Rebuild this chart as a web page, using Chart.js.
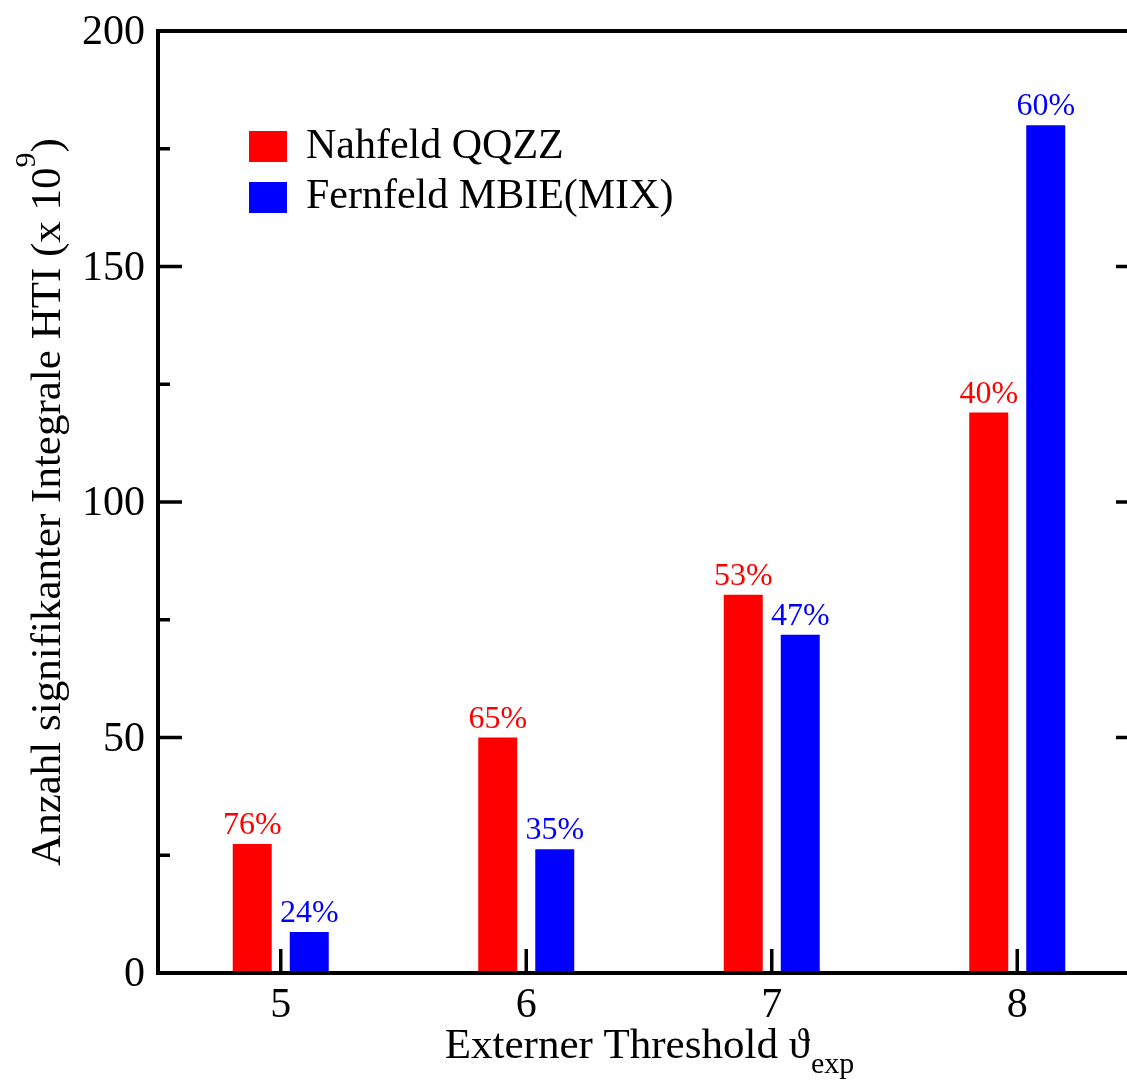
<!DOCTYPE html>
<html>
<head>
<meta charset="utf-8">
<script src="https://cdn.jsdelivr.net/npm/chart.js@4.4.1/dist/chart.umd.min.js"></script>
<style>
  html, body { margin: 0; padding: 0; background: #fff; overflow: hidden; }
  canvas { display: block; }
</style>
</head>
<body>
<canvas id="hti" width="1160" height="1081"></canvas>
<script>
const categories = ['5', '6', '7', '8'];
const nahfeld = [27.4, 50, 80.3, 119];
const fernfeld = [8.7, 26.3, 71.8, 180];
const nahfeldPct = ['76%', '65%', '53%', '40%'];
const fernfeldPct = ['24%', '35%', '47%', '60%'];
const yMajorTicks = [0, 50, 100, 150, 200];
const yMinorTicks = [25, 75, 125, 175];

const SERIF = "'Liberation Serif', 'Times New Roman', serif";
const RED = '#ff0000';
const BLUE = '#0000ff';

// frame, inward ticks, tick labels, axis titles, legend and bar labels
const xmgrDecor = {
  id: 'xmgrDecor',
  afterDraw(chart) {
    const { ctx, chartArea: a, scales } = chart;
    const x = scales.x, y = scales.y;
    ctx.save();

    // bar value labels
    ctx.font = '32px ' + SERIF;
    ctx.textAlign = 'center';
    ctx.textBaseline = 'alphabetic';
    const pcts = [nahfeldPct, fernfeldPct];
    chart.data.datasets.forEach((ds, di) => {
      ctx.fillStyle = ds.backgroundColor;
      chart.getDatasetMeta(di).data.forEach((bar, i) => {
        ctx.fillText(pcts[di][i], bar.x, bar.y - 10);
      });
    });

    // frame
    ctx.strokeStyle = '#000';
    ctx.lineWidth = 4;
    ctx.strokeRect(a.left, a.top, a.right - a.left, a.bottom - a.top);

    // y ticks
    ctx.lineWidth = 3.5;
    ctx.beginPath();
    yMajorTicks.forEach(v => {
      const py = y.getPixelForValue(v);
      ctx.moveTo(a.left, py); ctx.lineTo(a.left + 24, py);
      ctx.moveTo(a.right, py); ctx.lineTo(a.right - 24, py);
    });
    yMinorTicks.forEach(v => {
      const py = y.getPixelForValue(v);
      ctx.moveTo(a.left, py); ctx.lineTo(a.left + 12, py);
    });
    // x ticks
    categories.forEach((c, i) => {
      const px = x.getPixelForValue(i);
      ctx.moveTo(px, a.bottom); ctx.lineTo(px, a.bottom - 24);
    });
    ctx.stroke();

    // tick labels
    ctx.fillStyle = '#000';
    ctx.font = '42px ' + SERIF;
    ctx.textAlign = 'right';
    ctx.textBaseline = 'middle';
    yMajorTicks.forEach(v => {
      ctx.fillText(String(v), a.left - 13, y.getPixelForValue(v) + 2);
    });
    ctx.textAlign = 'center';
    ctx.textBaseline = 'alphabetic';
    categories.forEach((c, i) => {
      ctx.fillText(c, x.getPixelForValue(i), a.bottom + 44);
    });

    // x title with subscript
    const xMain = 'Externer Threshold \u03d1';
    const xSub = 'exp';
    ctx.font = '43px ' + SERIF;
    const wMain = ctx.measureText(xMain).width;
    ctx.font = '30px ' + SERIF;
    const wSub = ctx.measureText(xSub).width;
    let sx = (a.left + a.right) / 2 - (wMain + wSub) / 2;
    ctx.textAlign = 'left';
    ctx.font = '43px ' + SERIF;
    ctx.fillText(xMain, sx, 1058);
    ctx.font = '30px ' + SERIF;
    ctx.fillText(xSub, sx + wMain + 1, 1073);

    // y title with superscript
    const yParts = [
      { t: 'Anzahl signifikanter Integrale HTI (x 10', f: 43, dy: 0 },
      { t: '9', f: 30, dy: -25 },
      { t: ')', f: 43, dy: 0 },
    ];
    let total = 0;
    yParts.forEach(p => { ctx.font = p.f + 'px ' + SERIF; p.w = ctx.measureText(p.t).width; total += p.w; });
    ctx.translate(60, (a.top + a.bottom) / 2);
    ctx.rotate(-Math.PI / 2);
    let tx = -total / 2;
    yParts.forEach(p => {
      ctx.font = p.f + 'px ' + SERIF;
      ctx.fillText(p.t, tx, p.dy);
      tx += p.w;
    });
    ctx.setTransform(1, 0, 0, 1, 0, 0);

    // legend
    ctx.font = '42px ' + SERIF;
    const legendRows = [{ top: 131, base: 158 }, { top: 182, base: 208 }];
    chart.data.datasets.forEach((ds, di) => {
      const r = legendRows[di];
      ctx.fillStyle = ds.backgroundColor;
      ctx.fillRect(249, r.top, 38, 31);
      ctx.fillStyle = '#000';
      ctx.fillText(ds.label, 306, r.base);
    });

    ctx.restore();
  }
};

new Chart(document.getElementById('hti'), {
  type: 'bar',
  data: {
    labels: categories,
    datasets: [
      {
        label: 'Nahfeld QQZZ',
        data: nahfeld,
        backgroundColor: RED,
        borderWidth: 0,
        categoryPercentage: 0.4644,
        barPercentage: 0.684,
      },
      {
        label: 'Fernfeld MBIE(MIX)',
        data: fernfeld,
        backgroundColor: BLUE,
        borderWidth: 0,
        categoryPercentage: 0.4644,
        barPercentage: 0.684,
      },
    ],
  },
  options: {
    responsive: false,
    animation: false,
    devicePixelRatio: 1,
    layout: { padding: { left: 158, right: 20, top: 31, bottom: 108 } },
    plugins: { legend: { display: false }, tooltip: { enabled: false } },
    scales: {
      x: { display: false, offset: true },
      y: { display: false, min: 0, max: 200 },
    },
  },
  plugins: [xmgrDecor],
});
</script>
</body>
</html>
